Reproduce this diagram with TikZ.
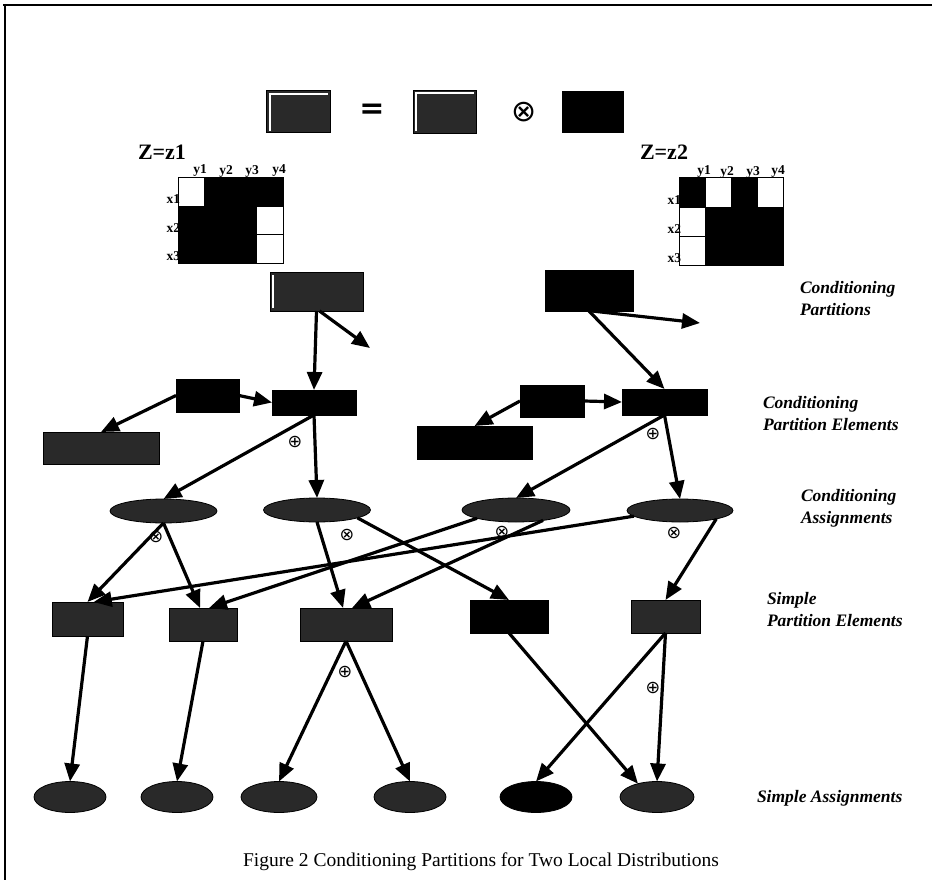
\documentclass[tikz,border=0pt]{standalone}
\usepackage{fontspec}
\setmainfont{Liberation Serif}
\newfontfamily\eqfont{DejaVu Sans}
\usetikzlibrary{shapes.geometric,arrows.meta}
\begin{document}
\begin{tikzpicture}[x=1pt,y=-1pt,
  every node/.style={inner sep=0pt, outer sep=0pt},
  solidbox/.style={rectangle, draw=black, fill=black, line width=0.8pt},
  greybox/.style={rectangle, draw=black, fill=black!84, line width=0.8pt},
  solidell/.style={ellipse, draw=black, fill=black, line width=0.8pt},
  greyell/.style={ellipse, draw=black, fill=black!84, line width=0.8pt},
  conn/.style={line width=3.2pt, -{Triangle[length=18pt,width=15pt]}},
  rowlabel/.style={font=\fontsize{17.5}{22}\selectfont\bfseries\itshape, align=left, anchor=north west},
  oplab/.style={font=\eqfont\fontsize{17.5}{17.5}\selectfont},
  axlab/.style={font=\fontsize{13.5}{13.5}\selectfont\bfseries},
  zlab/.style={font=\fontsize{22}{22}\selectfont\bfseries},
  cell/.style={fill=white, draw=black, line width=1pt}
]
\useasboundingbox (0,0) rectangle (932,880);
% frame fragments
\draw[line width=2.6pt] (3,5) -- (932,5);
\draw[line width=2.2pt] (5,4) -- (5,880);

% top equation
\node[greybox, minimum width=64, minimum height=42] (T1) at (298,111.5) {};
\node[font=\fontsize{30}{30}\selectfont\eqfont\bfseries] (eq) at (372,111) {=};
\node[greybox, minimum width=63, minimum height=43] (T2) at (444.5,111.5) {};
\node[font=\eqfont\fontsize{30}{30}\selectfont] (ot) at (524,112) {⊗};
\node[solidbox, minimum width=61, minimum height=41] (T3) at (592.5,112) {};
\draw[white, line width=1.2pt] (270,131) -- (270,94) -- (328,94);
\draw[white, line width=1.2pt] (416,131) -- (416,93) -- (474,93);

% matrix z1
\node[zlab] (z1) at (162,152) {Z=z1};
\draw[fill=black, line width=1pt] (178,178) rectangle (283,263);
\draw[cell] (178,178) rectangle (204.25,206.3);
\draw[cell] (256.75,206.3) rectangle (283,234.6);
\draw[cell] (256.75,234.6) rectangle (283,263);
\node[axlab] (m1y1) at (200,171) {y1};
\node[axlab] (m1y2) at (226,171) {y2};
\node[axlab] (m1y3) at (252,171) {y3};
\node[axlab] (m1y4) at (279,171) {y4};
\node[axlab, anchor=east] (m1x1) at (180,199) {x1};
\node[axlab, anchor=east] (m1x2) at (180,228) {x2};
\node[axlab, anchor=east] (m1x3) at (180,256) {x3};

% matrix z2
\node[zlab] (z2) at (664,152) {Z=z2};
\draw[fill=black, line width=1pt] (679,178) rectangle (783,265);
\draw[cell] (705,178) rectangle (731,207);
\draw[cell] (757,178) rectangle (783,207);
\draw[cell] (679,207) rectangle (705,236);
\draw[cell] (679,236) rectangle (705,265);
\node[axlab] (m2y1) at (704,172) {y1};
\node[axlab] (m2y2) at (727,172) {y2};
\node[axlab] (m2y3) at (753,172) {y3};
\node[axlab] (m2y4) at (778,172) {y4};
\node[axlab, anchor=east] (m2x1) at (681,200) {x1};
\node[axlab, anchor=east] (m2x2) at (681,229) {x2};
\node[axlab, anchor=east] (m2x3) at (681,258) {x3};

% conditioning partitions
\node[greybox, minimum width=93, minimum height=39] (CP1) at (316.5,291.5) {};
\draw[white, line width=1.2pt] (273,308) -- (273,275);
\node[solidbox, minimum width=88, minimum height=41] (CP2) at (589,290.5) {};
\coordinate (c1) at (370,348);
\coordinate (c2) at (700,323);

% conditioning partition elements
\node[solidbox, minimum width=63, minimum height=33] (A1) at (207.5,395.5) {};
\node[solidbox, minimum width=84, minimum height=25] (CE1) at (314,402.5) {};
\node[greybox, minimum width=116, minimum height=32] (B1) at (101,448) {};
\node[solidbox, minimum width=64, minimum height=32] (A2) at (552,401) {};
\node[solidbox, minimum width=85, minimum height=26] (CE2) at (664.5,402) {};
\node[solidbox, minimum width=115, minimum height=33] (B2) at (474.5,442.5) {};

% conditioning assignments
\node[greyell, minimum width=107, minimum height=24] (E1) at (163.5,511) {};
\node[greyell, minimum width=107, minimum height=24] (E2) at (317,510) {};
\node[greyell, minimum width=108, minimum height=24] (E3) at (516,510) {};
\node[greyell, minimum width=106, minimum height=23] (E4) at (680,510.5) {};

% simple partition elements
\node[greybox, minimum width=71, minimum height=34] (S1) at (87.5,619) {};
\node[greybox, minimum width=68, minimum height=33] (S2) at (203,624.5) {};
\node[greybox, minimum width=92, minimum height=33] (S3) at (346,624.5) {};
\node[solidbox, minimum width=78, minimum height=33] (S4) at (509,616.5) {};
\node[greybox, minimum width=69, minimum height=33] (S5) at (665.5,616.5) {};

% simple assignments
\node[greyell, minimum width=72, minimum height=31] (SA1) at (70,797) {};
\node[greyell, minimum width=72, minimum height=31] (SA2) at (177,797) {};
\node[greyell, minimum width=76, minimum height=31] (SA3) at (279,797) {};
\node[greyell, minimum width=72, minimum height=31] (SA4) at (410,797) {};
\node[solidell, minimum width=72, minimum height=31] (SA5) at (536,797) {};
\node[greyell, minimum width=74, minimum height=31] (SA6) at (657,797) {};

% connectors
\draw[conn] (CP1.south) -- (CE1.north);
\draw[conn] ([xshift=3pt]CP1.south) -- (c1);
\draw[conn] (CP2.south) -- (CE2.north);
\draw[conn] ([xshift=3pt]CP2.south) -- (c2);
\draw[conn] (A1.east) -- (CE1.west);
\draw[conn] (A1.west) -- (B1.north);
\draw[conn] (A2.east) -- (CE2.west);
\draw[conn] (A2.west) -- (B2.north);
\draw[conn] (CE1.south) -- (E1.north);
\draw[conn] (CE1.south) -- (E2.north);
\draw[conn] (CE2.south) -- (E3.north);
\draw[conn] (CE2.south) -- (E4.north);
\draw[conn] (E1.south) -- (S1.north);
\draw[conn] (E1.south) -- (S2.100);
\draw[conn] (E2.south) -- (S3.100);
\draw[conn] (E2.-11) -- (S4.north);
\draw[conn] (E3.192) -- (S2.70);
\draw[conn] (E3.-21) -- (S3.70);
\draw[conn] (E4.187) -- (S1.70);
\draw[conn] (E4.-13) -- (S5.north);
\draw[conn] (S1.south) -- (SA1.north);
\draw[conn] (S2.south) -- (SA2.north);
\draw[conn] (S3.south) -- (SA3.north);
\draw[conn] (S3.south) -- (SA4.north);
\draw[conn] (S4.south) -- (SA6.145);
\draw[conn] (S5.south) -- (SA5.north);
\draw[conn] (S5.south) -- (SA6.north);

% operator marks
\node[oplab] (op1) at (295,442) {⊕};
\node[oplab] (op2) at (653,434) {⊕};
\node[oplab] (op3) at (156,537) {⊗};
\node[oplab] (op4) at (347,535) {⊗};
\node[oplab] (op5) at (502,532) {⊗};
\node[oplab] (op6) at (674,533) {⊗};
\node[oplab] (op7) at (345,672) {⊕};
\node[oplab] (op8) at (653,688) {⊕};

% row labels
\node[rowlabel] (L1) at (800,281) {Conditioning\\Partitions};
\node[rowlabel] (L2) at (763,396) {Conditioning\\Partition Elements};
\node[rowlabel] (L3) at (801,489) {Conditioning\\Assignments};
\node[rowlabel] (L4) at (767,592) {Simple\\Partition Elements};
\node[rowlabel, anchor=west] (L5) at (757,798) {Simple Assignments};

% caption
\node[font=\fontsize{19.5}{22}\selectfont] (cap) at (481,862) {Figure 2 Conditioning Partitions for Two Local Distributions};
\end{tikzpicture}
\end{document}
